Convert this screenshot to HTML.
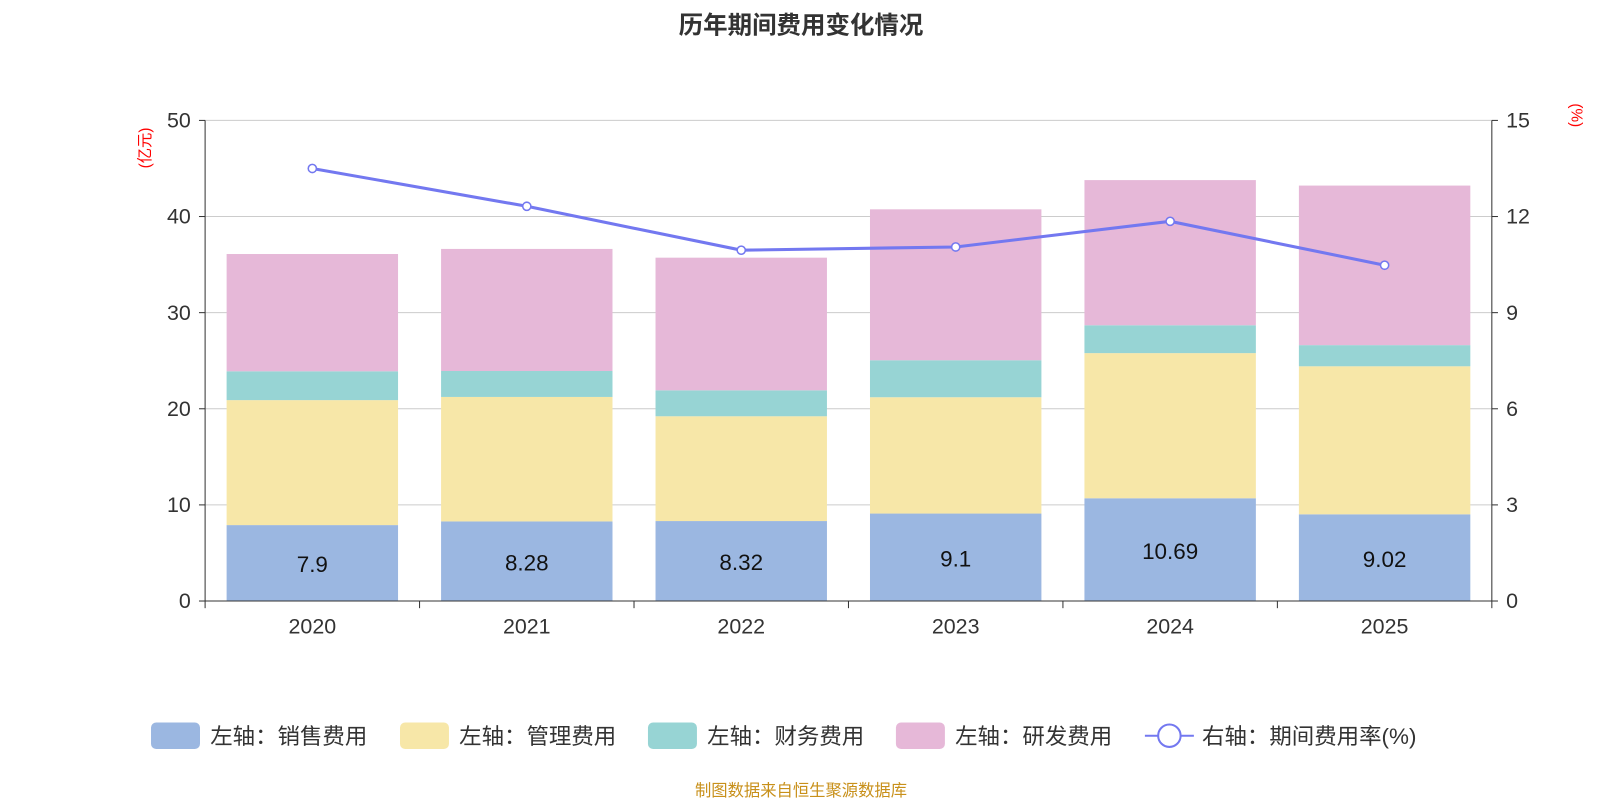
<!DOCTYPE html>
<html><head><meta charset="utf-8">
<style>
body{margin:0;background:#fff;font-family:"Liberation Sans","Noto Sans CJK SC",sans-serif;}
svg{display:block}
svg text{font-family:"Liberation Sans","Noto Sans CJK SC",sans-serif;}
</style></head>
<body>
<svg id="chart" width="1600" height="800" viewBox="0 0 1568 784">
<text x="785" y="33" text-anchor="middle" font-size="24" font-weight="bold" fill="#333">历年期间费用变化情况</text>
<text transform="translate(147,145) rotate(-90)" text-anchor="middle" font-size="15" fill="#f00">(亿元)</text>
<text transform="translate(1540,113) rotate(90)" text-anchor="middle" font-size="15" fill="#f00">(%)</text>
<g id="grid"></g><g id="bars"></g><g id="axes"></g><g id="line"></g><g id="legend"></g>
<text x="785" y="780" text-anchor="middle" font-size="16" fill="#c8901a">制图数据来自恒生聚源数据库</text>
</svg>
<script>
const categories=["2020","2021","2022","2023","2024","2025"];
const sales=[7.9,8.28,8.32,9.1,10.69,9.02];
const admin=[13.0,12.95,10.9,12.1,15.1,15.4];
const finance=[3.0,2.7,2.7,3.85,2.9,2.2];
const rnd=[12.2,12.7,13.8,15.7,15.1,16.6];
const rate=[13.5,12.32,10.95,11.05,11.85,10.48];
const leftTicks=[0,10,20,30,40,50];
const rightTicks=[0,3,6,9,12,15];
const NS="http://www.w3.org/2000/svg";
const X0=201,X1=1462,Y0=589,Y1=118;
const yL=v=>Y0-(v/50)*(Y0-Y1);
const yR=v=>Y0-(v/15)*(Y0-Y1);
const bw=(X1-X0)/categories.length;
const xC=i=>X0+bw*(i+0.5);
function mk(tag,attrs,parent){const e=document.createElementNS(NS,tag);for(const k in attrs)e.setAttribute(k,attrs[k]);document.getElementById(parent).appendChild(e);return e;}
leftTicks.forEach((t,i)=>{
 if(t>0){const g=mk('line',{x1:X0,x2:X1,y1:yL(t),y2:yL(t),stroke:'#ccc','stroke-width':1},'grid');
 
 }
 const a=mk('text',{x:X0-14,y:yL(t)+7,'text-anchor':'end','font-size':21,fill:'#333'},'axes');a.textContent=t;
 
 
 mk('line',{x1:X0-6,x2:X0,y1:yL(t),y2:yL(t),stroke:'#333'},'axes');
});
rightTicks.forEach(t=>{
 const a=mk('text',{x:X1+14,y:yR(t)+7,'text-anchor':'start','font-size':21,fill:'#333'},'axes');a.textContent=t;
 
 
 mk('line',{x1:X1,x2:X1+6,y1:yR(t),y2:yR(t),stroke:'#333'},'axes');
});
mk('line',{x1:X0,x2:X0,y1:Y1,y2:Y0,stroke:'#333'},'axes');
mk('line',{x1:X1,x2:X1,y1:Y1,y2:Y0,stroke:'#333'},'axes');
mk('line',{x1:X0,x2:X1,y1:Y0,y2:Y0,stroke:'#333'},'axes');
for(let i=0;i<=categories.length;i++)mk('line',{x1:X0+bw*i,x2:X0+bw*i,y1:Y0,y2:Y0+7,stroke:'#333'},'axes');
const series=[[sales,'#9bb7e1','sales'],[admin,'#f7e7a8','admin'],[finance,'#97d4d4','finance'],[rnd,'#e6b8d8','rnd']];
categories.forEach((c,i)=>{
 let base=0;
 series.forEach(([arr,col,nm])=>{
  const r=mk('rect',{x:xC(i)-84,width:168,y:yL(base+arr[i]),height:yL(base)-yL(base+arr[i]),fill:col},'bars');
  
  
  base+=arr[i];
 });
 const t=mk('text',{x:xC(i),y:(yL(0)+yL(sales[i]))/2+9,'text-anchor':'middle','font-size':22,fill:'#111'},'bars');t.textContent=sales[i];
 
 
 const l=mk('text',{x:xC(i),y:621,'text-anchor':'middle','font-size':21,fill:'#333'},'axes');l.textContent=c;
 
 
});
const pl=mk('polyline',{points:rate.map((v,i)=>xC(i)+','+yR(v)).join(' '),fill:'none',stroke:'#7378f0','stroke-width':3},'line');


rate.forEach((v,i)=>{const c=mk('circle',{cx:xC(i),cy:yR(v),r:4,fill:'#fff',stroke:'#7378f0','stroke-width':1.5},'line');
 
 });
const leg=[['#9bb7e1','左轴：销售费用',148],['#f7e7a8','左轴：管理费用',392],['#97d4d4','左轴：财务费用',635],['#e6b8d8','左轴：研发费用',878]];
leg.forEach(([col,txt,x])=>{
 const r=mk('rect',{x:x,y:708,width:48,height:26,rx:5,fill:col},'legend');
 
 
 const t=mk('text',{x:x+58,y:729,'font-size':22,fill:'#333'},'legend');t.textContent=txt;
 
 
});
mk('line',{x1:1122,x2:1170,y1:721,y2:721,stroke:'#7378f0','stroke-width':2},'legend');
mk('circle',{cx:1146,cy:721,r:11,fill:'#fff',stroke:'#7378f0','stroke-width':2},'legend');
const lt=mk('text',{x:1178,y:729,'font-size':22,fill:'#333'},'legend');lt.textContent='右轴：期间费用率(%)';


</script>
</body></html>
